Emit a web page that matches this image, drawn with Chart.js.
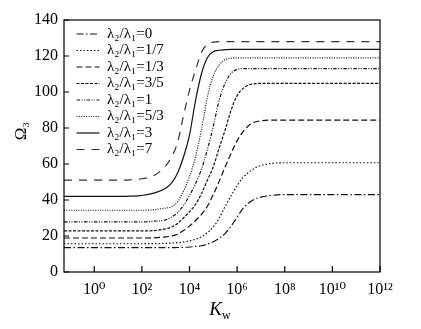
<!DOCTYPE html>
<html>
<head>
<meta charset="utf-8">
<script src="https://cdn.jsdelivr.net/npm/chart.js@4.4.1/dist/chart.umd.min.js"></script>
<style>
html, body { margin: 0; padding: 0; background: #fff; }
#wrap { width: 421px; height: 329px; }
</style>
</head>
<body>
<div id="wrap"><canvas id="myChart"></canvas></div>
<script>
// x positions are log10(Kw)
var logK = [-1.27, 0, 1, 1.5, 2, 2.5, 3, 3.25, 3.5, 3.75, 4, 4.25, 4.5, 4.75, 5, 5.25, 5.5, 5.75, 6, 6.25, 6.5, 6.75, 7, 7.5, 8, 9, 10, 11, 12];

var ratio0   = [13.5, 13.5, 13.5, 13.5, 13.5, 13.5, 13.5, 13.5, 13.6, 13.7, 13.9, 14.2, 14.6, 15.5, 16.8, 18.8, 21.5, 25.5, 30.5, 35.4, 38.5, 40.5, 41.6, 42.6, 43, 43, 43, 43, 43];
var ratio1_7 = [15.7, 15.7, 15.7, 15.7, 15.7, 15.8, 15.9, 16.1, 16.3, 16.7, 17.3, 18.2, 19.5, 21.8, 25, 30, 36.5, 42.5, 48, 52.5, 55.5, 57.8, 59.2, 60.4, 60.7, 60.7, 60.7, 60.7, 60.7];
var ratio1_3 = [18.9, 18.9, 18.9, 18.9, 18.9, 19, 19.5, 20, 21, 23, 25.5, 28.5, 32, 36.5, 43, 50.5, 58.5, 66, 73, 78, 81.5, 83.3, 84, 84.4, 84.4, 84.4, 84.4, 84.4, 84.4];
var ratio3_5 = [22.8, 22.8, 22.8, 22.8, 22.8, 23, 24, 25, 27, 30, 33.5, 37.5, 43.5, 51, 58.5, 69, 79, 90, 98, 102, 104, 104.6, 104.8, 104.8, 104.8, 104.8, 104.8, 104.8, 104.8];
var ratio1   = [27.8, 27.8, 27.8, 27.8, 27.8, 28.2, 29, 30.5, 33, 37, 42.5, 49, 57, 68, 81, 95.6, 105, 110.5, 112.5, 113, 113, 113, 113, 113, 113, 113, 113, 113, 113];
var ratio5_3 = [34.3, 34.3, 34.3, 34.3, 34.3, 34.6, 35.5, 36.3, 39, 45, 53, 64, 79, 97, 109, 115, 118, 118.8, 119, 119, 119, 119, 119, 119, 119, 119, 119, 119, 119];
var ratio3   = [42, 42, 42, 42.1, 42.5, 43.8, 46.5, 49.5, 55, 64, 76, 95, 110, 119, 122.4, 123.2, 123.5, 123.7, 123.7, 123.7, 123.7, 123.7, 123.7, 123.7, 123.7, 123.7, 123.7, 123.7, 123.7];
var ratio7   = [51, 51, 51, 51.2, 51.8, 53.5, 59, 64, 72, 87, 101, 112, 122, 126.5, 127.7, 128, 128, 128, 128, 128, 128, 128, 128, 128, 128, 128, 128, 128, 128];

var labels = ['λ₂/λ₁=0', 'λ₂/λ₁=1/7', 'λ₂/λ₁=1/3', 'λ₂/λ₁=3/5', 'λ₂/λ₁=1', 'λ₂/λ₁=5/3', 'λ₂/λ₁=3', 'λ₂/λ₁=7'];
var xTicks = [0, 2, 4, 6, 8, 10, 12];
var yTicks = [0, 20, 40, 60, 80, 100, 120, 140];

var serif = '"Liberation Serif", "DejaVu Serif", serif';
var sup = {'0': '⁰', '1': '¹', '2': '²', '4': '⁴', '6': '⁶', '8': '⁸'};

function pts(arr) {
  return arr.map(function(v, i) { return {x: logK[i], y: v}; });
}

function ds(label, arr, dash, color) {
  return {
    label: label,
    data: pts(arr),
    borderColor: color || '#111',
    backgroundColor: color || '#111',
    borderWidth: 1.2,
    borderDash: dash,
    pointRadius: 0,
    fill: false,
    cubicInterpolationMode: 'monotone'
  };
}

var framePlugin = {
  id: 'frame',
  afterLayout: function(chart) {
    // nudge the legend a little inside the frame
    chart.legend.left = chart.chartArea.left + 11;
    chart.legend.top = chart.chartArea.top + 5;
  },
  afterDatasetsDraw: function(chart) {
    var ctx = chart.ctx, a = chart.chartArea;
    var xs = chart.scales.x, ys = chart.scales.y;
    ctx.save();
    ctx.strokeStyle = '#000';
    ctx.lineWidth = 1.2;
    ctx.strokeRect(a.left, a.top, a.right - a.left, a.bottom - a.top);
    ctx.beginPath();
    xs.ticks.forEach(function(t) {
      var px = xs.getPixelForValue(t.value);
      ctx.moveTo(px, a.bottom);
      ctx.lineTo(px, a.bottom - 6);
    });
    ys.ticks.forEach(function(t) {
      var py = ys.getPixelForValue(t.value);
      ctx.moveTo(a.left, py);
      ctx.lineTo(a.left + 5, py);
    });
    ctx.stroke();

    ctx.fillStyle = '#000';
    ctx.textBaseline = 'alphabetic';
    // x title: K with subscript w
    ctx.font = 'italic 19px ' + serif;
    var kw = ctx.measureText('K').width;
    ctx.font = '12px ' + serif;
    var ww = ctx.measureText('w').width;
    var x0 = (a.left + a.right) / 2 - (kw + ww) / 2 - 2;
    ctx.font = 'italic 19px ' + serif;
    ctx.fillText('K', x0, 315);
    ctx.font = '12px ' + serif;
    ctx.fillText('w', x0 + kw, 319);
    // y title
    ctx.translate(26, 131);
    ctx.rotate(-Math.PI / 2);
    ctx.font = '17px ' + serif;
    ctx.textAlign = 'center';
    ctx.fillText('Ω₃', 0, 0);
    ctx.restore();
  }
};

var ctx = document.getElementById('myChart');
var myChart = new Chart(ctx, {
  type: 'line',
  data: {
    datasets: [
      ds(labels[0], ratio0, [7, 2.5, 1.5, 2.5]),
      ds(labels[1], ratio1_7, [1.5, 2]),
      ds(labels[2], ratio1_3, [6, 3]),
      ds(labels[3], ratio3_5, [3, 1.5]),
      ds(labels[4], ratio1, [3.5, 1.5, 1, 1.5, 1, 1.5]),
      ds(labels[5], ratio5_3, [1, 1.4]),
      ds(labels[6], ratio3, []),
      ds(labels[7], ratio7, [8, 7], '#333')
    ]
  },
  options: {
    responsive: true,
    maintainAspectRatio: false,
    animation: false,
    layout: { padding: { top: 20, right: 41, left: 0, bottom: 0 } },
    plugins: {
      tooltip: { enabled: false },
      legend: {
        position: 'chartArea',
        align: 'start',
        labels: {
          usePointStyle: true,
          pointStyle: 'line',
          pointStyleWidth: 23,
          padding: 1.5,
          color: '#000',
          font: { family: serif, size: 15 },
          generateLabels: function(chart) {
            var items = Chart.defaults.plugins.legend.labels.generateLabels(chart);
            items.forEach(function(it) {
              var d = chart.data.datasets[it.datasetIndex];
              it.lineDash = d.borderDash;
              it.lineWidth = d.borderWidth;
              it.strokeStyle = d.borderColor;
              it.pointStyle = 'line';
            });
            return items;
          }
        }
      }
    },
    scales: {
      x: {
        type: 'linear',
        min: -1.27,
        max: 12,
        afterBuildTicks: function(scale) {
          scale.ticks = xTicks.map(function(v) { return {value: v}; });
        },
        afterFit: function(scale) { scale.height = 57; },
        grid: { display: false, drawTicks: false },
        border: { display: false },
        ticks: {
          padding: 8,
          color: '#000',
          maxRotation: 0,
          font: { family: serif, size: 16 },
          callback: function(v) {
            return '10' + String(v).split('').map(function(c) { return sup[c]; }).join('');
          }
        }
      },
      y: {
        min: 0,
        max: 140,
        afterBuildTicks: function(scale) {
          scale.ticks = yTicks.map(function(v) { return {value: v}; });
        },
        afterFit: function(scale) { scale.width = 64; },
        grid: { display: false, drawTicks: false },
        border: { display: false },
        ticks: {
          padding: 6,
          color: '#000',
          font: { family: serif, size: 16 }
        }
      }
    }
  },
  plugins: [framePlugin]
});
</script>
</body>
</html>
